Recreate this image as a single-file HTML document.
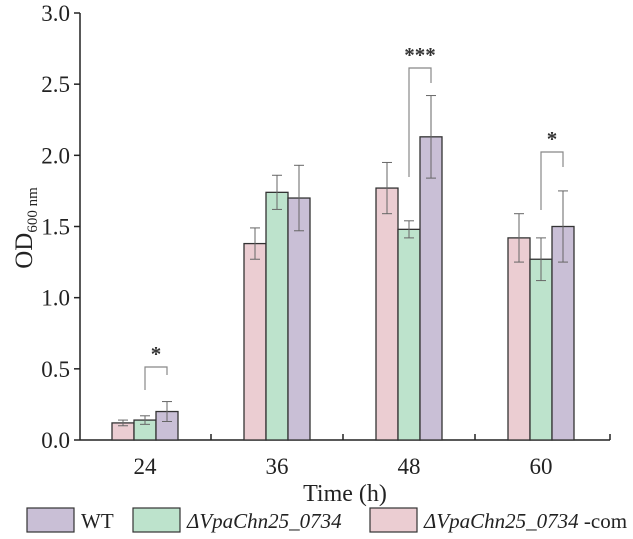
<!DOCTYPE html>
<html><head><meta charset="utf-8"><style>
body{margin:0;background:#fff}
svg{display:block;font-family:"Liberation Serif",serif}
</style></head><body>
<svg id="chart" width="633" height="539" viewBox="0 0 633 539"></svg>
<script>
const categories=["24","36","48","60"];
const series=["ΔVpaChn25_0734-com","ΔVpaChn25_0734","WT"];
const comValues=[0.12,1.38,1.77,1.42];
const comErr=[0.02,0.11,0.18,0.17];
const mutValues=[0.14,1.74,1.48,1.27];
const mutErr=[0.03,0.12,0.06,0.15];
const wtValues=[0.20,1.70,2.13,1.50];
const wtErr=[0.07,0.23,0.29,0.25];
const yTicks=[0,0.5,1.0,1.5,2.0,2.5,3.0];
const colors=["#ebcdd2","#bde3cc","#c9bfd6"];
const NS="http://www.w3.org/2000/svg";
const svg=document.getElementById("chart");
const x0=80,x1=610,yb=440,yt=13,ymax=3;
const y=v=>yb-(v/ymax)*(yb-yt);
const xc=i=>145+i*132;
function mk(t,a,p){const e=document.createElementNS(NS,t);for(const k in a)e.setAttribute(k,a[k]);(p||svg).appendChild(e);return e;}
const ax=mk("line",{x1:x0,y1:yb,x2:x1,y2:yb,stroke:"#222","stroke-width":1.5});


const ay=mk("line",{x1:x0,y1:yb,x2:x0,y2:yt,stroke:"#222","stroke-width":1.5});


yTicks.forEach(v=>{
  mk("line",{x1:x0-6,y1:y(v),x2:x0,y2:y(v),stroke:"#222","stroke-width":1.5});
  const t=mk("text",{x:x0-10,y:y(v)+8,"text-anchor":"end","font-size":23,fill:"#222"});
  t.textContent=v.toFixed(1);
  
  
});
categories.forEach((c,i)=>{
  if(i>0)mk("line",{x1:xc(i)-66,y1:yb,x2:xc(i)-66,y2:yb-6,stroke:"#222","stroke-width":1.5});
  const t=mk("text",{x:xc(i),y:474,"text-anchor":"middle","font-size":23,fill:"#222"});
  t.textContent=c;
  
  
});
mk("line",{x1:x1,y1:yb,x2:x1,y2:yb-6,stroke:"#222","stroke-width":1.5});
const vals=[comValues,mutValues,wtValues],errs=[comErr,mutErr,wtErr],bw=22;
const names=["com","mutant","wt"];
categories.forEach((c,i)=>{
  for(let s=0;s<3;s++){
    const cx=xc(i)+(s-1)*bw,v=vals[s][i],e=errs[s][i];
    const r=mk("rect",{x:cx-bw/2,y:y(v),width:bw,height:yb-y(v),fill:colors[s],stroke:"#333","stroke-width":1.3});
    
    
    mk("line",{x1:cx,y1:y(v+e),x2:cx,y2:y(v-e),stroke:"#666","stroke-width":1});
    mk("line",{x1:cx-5,y1:y(v+e),x2:cx+5,y2:y(v+e),stroke:"#666","stroke-width":1});
    mk("line",{x1:cx-5,y1:y(v-e),x2:cx+5,y2:y(v-e),stroke:"#666","stroke-width":1});
  }
});
const sig=[[0,367,390,375,"*"],[2,68,177,83,"***"],[3,152,210,167,"*"]];
sig.forEach(([i,top,lb,rb,l])=>{
  const xl=xc(i),xr=xc(i)+bw;
  mk("polyline",{points:`${xl},${lb} ${xl},${top} ${xr},${top} ${xr},${rb}`,fill:"none",stroke:"#888","stroke-width":1.2});
  const t=mk("text",{x:(xl+xr)/2,y:top-6,"text-anchor":"middle","font-size":21,"font-weight":"bold",fill:"#333"});
  t.textContent=l;
  
  
});
</script>
<svg width="633" height="539" style="position:absolute;left:0;top:0">
<text transform="translate(32,228) rotate(-90)" text-anchor="middle" font-size="25" fill="#222" font-family="Liberation Serif">OD<tspan font-size="15" dy="5">600 nm</tspan></text>
<text x="345" y="501" text-anchor="middle" font-size="24" fill="#222" font-family="Liberation Serif">Time (h)</text>
<g font-family="Liberation Serif" font-size="21" fill="#222">
<rect x="27" y="508" width="47" height="24" fill="#c9bfd6" stroke="#333" stroke-width="1.2"/>
<text x="81" y="528">WT</text>
<rect x="133" y="508" width="47" height="24" fill="#bde3cc" stroke="#333" stroke-width="1.2"/>
<text x="187" y="528" font-style="italic">ΔVpaChn25_0734</text>
<rect x="370" y="508" width="47" height="24" fill="#ebcdd2" stroke="#333" stroke-width="1.2"/>
<text x="424" y="528"><tspan font-style="italic">ΔVpaChn25_0734</tspan> -com</text>
</g>
</svg>
</body></html>
